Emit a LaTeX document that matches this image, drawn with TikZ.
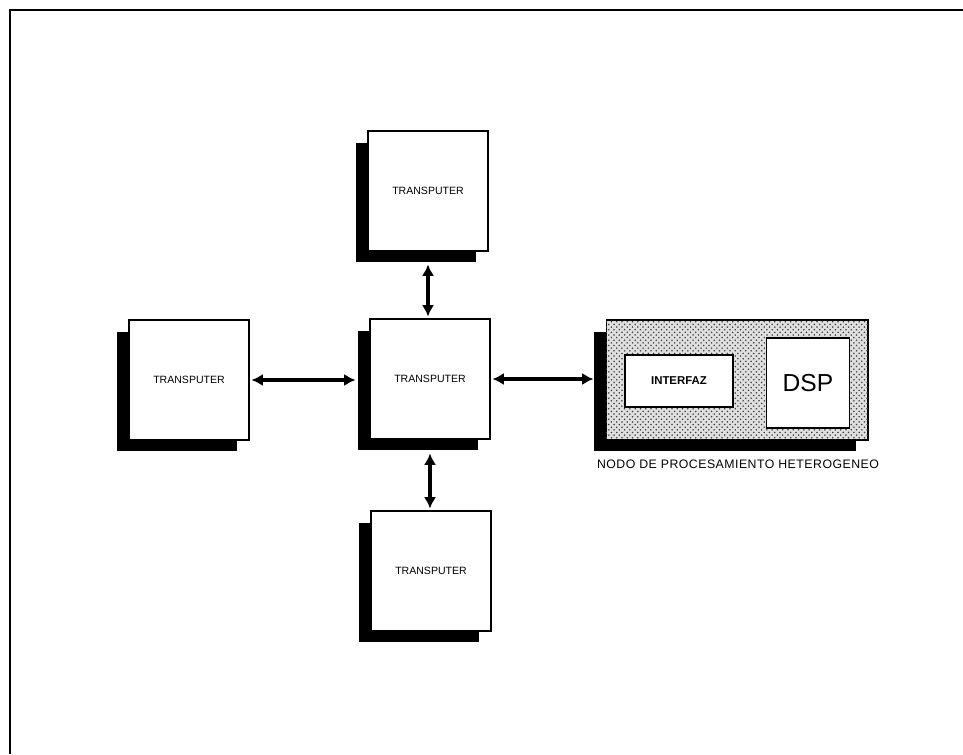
\documentclass[tikz,border=0pt]{standalone}
\usepackage{fontspec}
\setmainfont{Liberation Sans}
\usetikzlibrary{arrows.meta,shadows,patterns}

\begin{document}
\begin{tikzpicture}[x=0.02cm,y=-0.02cm]
	\tikzstyle{every node}+=[inner sep=0pt]
	\tikzstyle{tbox}=[draw=black,line width=0.6pt,fill=white,minimum width=2.4cm,minimum height=2.4cm,
		drop shadow={shadow xshift=-0.24cm,shadow yshift=-0.23cm,fill=black,opacity=1},
		font=\fontsize{6}{7}\selectfont]
	\tikzstyle{link}=[line width=1.8pt,{Latex[length=6.5pt,width=7pt]}-{Latex[length=6.5pt,width=7pt]}]
	\useasboundingbox (0,0) rectangle (963,754);
	% marco
	\draw [line width=1.3pt] (963,10) -- (10,10) -- (10,754);
	% transputers
	\node [tbox] (tpnorte) at (428,191) {TRANSPUTER};
	\node [tbox] (tpcentro) at (430,379) {TRANSPUTER};
	\node [tbox] (tpoeste) at (189,380) {TRANSPUTER};
	\node [tbox] (tpsur) at (431,571) {TRANSPUTER};
	% nodo heterogeneo
	\node [tbox,minimum width=5.24cm,fill=black!12,postaction={pattern=crosshatch dots,pattern color=black!75}] (nodohet) at (737,380) {};
	\node [draw=black,line width=0.8pt,fill=white,minimum width=2.16cm,minimum height=1.04cm,
		font=\fontsize{6.5}{7}\selectfont\bfseries] (interfaz) at (679,381) {INTERFAZ};
	\node [draw=black,line width=0.8pt,fill=white,minimum width=1.66cm,minimum height=1.8cm,
		font=\fontsize{14}{15}\selectfont] (dsp) at (808,383) {DSP};
	\node [font=\fontsize{7}{8}\selectfont\addfontfeature{LetterSpace=4}] (etiqueta) at (738,464) {NODO DE PROCESAMIENTO HETEROGENEO};
	% enlaces
	\draw [link,shorten <=0.26cm,shorten >=0.04cm] (tpnorte.south) -- (tpnorte.south |- tpcentro.north);
	\draw [link,shorten <=0.04cm,shorten >=0.28cm] (tpoeste.east) -- (tpoeste.east -| tpcentro.west);
	\draw [link,shorten <=0.04cm,shorten >=0.24cm] (tpcentro.east) -- (tpcentro.east -| nodohet.west);
	\draw [link,shorten <=0.28cm,shorten >=0.04cm] (tpcentro.south) -- (tpcentro.south |- tpsur.north);
\end{tikzpicture}
\end{document}
